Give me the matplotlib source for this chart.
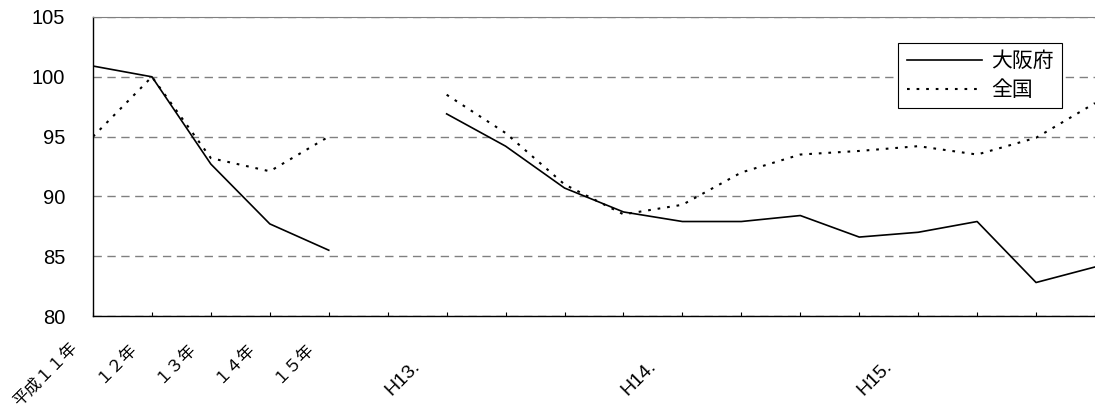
import numpy as np
import matplotlib
matplotlib.use('Agg')
import matplotlib.pyplot as plt
from matplotlib.transforms import ScaledTranslation

plt.rcParams['font.family'] = ['Liberation Sans', 'Noto Sans CJK JP']

# categories: 5 annual points, a blank slot, then 12 quarterly points
labels = ["平成１１年", "１２年", "１３年", "１４年", "１５年", "",
          "H13.", "", "", "", "H14.", "", "", "", "H15.", "", "", ""]
nan = np.nan
osaka = [100.9, 100.0, 92.7, 87.7, 85.5, nan,
         96.9, 94.2, 90.7, 88.7, 87.9, 87.9, 88.4, 86.6, 87.0, 87.9, 82.8, 84.1]
zenkoku = [95.0, 100.0, 93.2, 92.1, 95.0, nan,
           98.5, 95.3, 91.0, 88.5, 89.3, 92.0, 93.5, 93.8, 94.2, 93.5, 94.9, 97.8]

x = np.arange(len(labels))

fig = plt.figure(figsize=(10.95, 4.07), dpi=100)
ax = fig.add_axes([93/1095, 1 - 316/407, 1 - 93/1095, (316 - 17)/407])

ax.plot(x, osaka, color='black', lw=1.2, label='大阪府')
ax.plot(x, zenkoku, color='black', lw=1.5, linestyle=(0, (1.3, 3.3)), label='全国')

ax.set_xlim(0, len(labels) - 1)
ax.set_ylim(80, 105)
ax.set_yticks(range(80, 106, 5))
ax.yaxis.grid(True, color='#808080', lw=1, linestyle=(0, (6, 4)))
ax.set_axisbelow(True)

ax.spines['right'].set_visible(False)
ax.spines['top'].set_color('#808080')
ax.spines['left'].set_linewidth(1)
ax.spines['bottom'].set_linewidth(1)

ax.tick_params(axis='y', length=0, pad=20, labelsize=14.5)
ax.tick_params(axis='x', direction='in', length=3, width=0.8, pad=0)
ax.set_xticks(x)
ax.set_xticklabels(labels, rotation=45, ha='right', va='center',
                   rotation_mode='anchor')
for lbl in ax.get_xticklabels():
    if lbl.get_text().startswith('H'):
        dx, dy = -29, -48
        lbl.set_fontsize(14)
    else:
        dx, dy = -18, -29
        lbl.set_fontsize(12)
    lbl.set_transform(lbl.get_transform() + ScaledTranslation(dx/100, dy/100, fig.dpi_scale_trans))

leg = ax.legend(loc='upper right', bbox_to_anchor=((1062 - 93)/1002, (316 - 43)/299),
                borderaxespad=0, fancybox=False, framealpha=1, edgecolor='black',
                fontsize=15, handlelength=3.6, handletextpad=0.45, labelspacing=0.45,
                borderpad=0.4)
leg.get_frame().set_linewidth(0.8)

fig.savefig('out.png', dpi=100)
